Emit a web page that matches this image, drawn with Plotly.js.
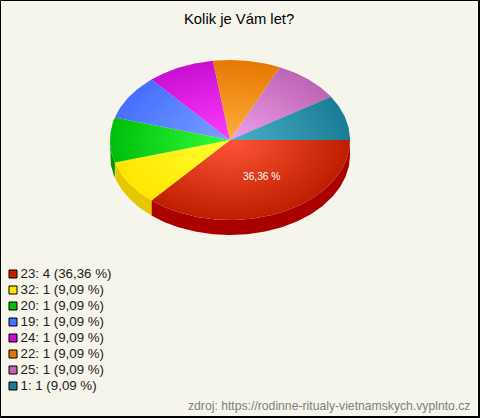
<!DOCTYPE html>
<html><head><meta charset="utf-8">
<script src="https://cdn.plot.ly/plotly-3.0.1.min.js"></script>
<style>html,body{margin:0;padding:0;background:#F5F5EC}#c{width:480px;height:418px}</style>
</head><body><div id="c"></div>
<script>
const categories = ['23','32','20','19','24','22','25','1'];
const counts = [4,1,1,1,1,1,1,1];
const percents = ['36,36','9,09','9,09','9,09','9,09','9,09','9,09','9,09'];
const edgeColors = ['#BE1E00','#FFE600','#00BE0A','#466EFF','#C80FD2','#E67800','#BE64B4','#197D96'];
const centerColors = ['#FF5537','#FFFF32','#32FF3C','#78A0FF','#FF3CFF','#FFAF3C','#F0A0EB','#4BAFC8'];
const swatchColors = ['#C81E00','#FFE600','#00BE0A','#466EFF','#C80FD2','#E67800','#BE64B4','#197D96'];
const sideColors = ['#AA0000','#E6C800','#009600','#3250C8','#9600A0','#B45A00','#96508C','#146478'];
const chartTitle = 'Kolik je Vám let?';
const sourceText = 'zdroj: https://rodinne-ritualy-vietnamskych.vyplnto.cz';

const cx=230, cy=140, rx=120, ry=80, depth=15;
const total = counts.reduce((a,b)=>a+b,0);
const rad = d=>d*Math.PI/180;
function arc(a0,a1,dy){
  const n=Math.max(2,Math.ceil(Math.abs(a1-a0)));
  const xs=[],ys=[];
  for(let i=0;i<=n;i++){const a=rad(a0+(a1-a0)*i/n);xs.push(cx+rx*Math.cos(a));ys.push(cy+dy+ry*Math.sin(a));}
  return [xs,ys];
}
const sides=[],tops=[];
let start=0;
counts.forEach((v,i)=>{
  const end=start+v/total*360;
  if(start<180){
    const e=Math.min(end,180);
    const [x1,y1]=arc(start,e,0),[x2,y2]=arc(e,start,depth);
    sides.push({type:'scatter',mode:'lines',x:x1.concat(x2),y:y1.concat(y2),fill:'toself',
      fillcolor:sideColors[i],line:{width:0},hoverinfo:'skip',showlegend:false});
  }
  const [ax,ay]=arc(start,end,0);
  // zero-area spike makes the fill's bounding box the whole ellipse, so the radial gradient is centred on the pie
  const xs=[cx-rx,cx,cx+rx,cx].concat(ax,[cx]);
  const ys=[cy-ry,cy,cy+ry,cy].concat(ay,[cy]);
  tops.push({type:'scatter',mode:'lines',x:xs,y:ys,fill:'toself',
    fillgradient:{type:'radial',colorscale:[[0,centerColors[i]],[1,edgeColors[i]]]},
    fillcolor:edgeColors[i],line:{width:0},hoverinfo:'skip',showlegend:false});
  start=end;
});
const rowY=categories.map((c,i)=>274+16*i);
const swatches={type:'scatter',mode:'markers',x:categories.map(()=>13),y:rowY,
  marker:{symbol:'square',size:8,color:swatchColors,line:{color:'#000',width:1}},
  hoverinfo:'skip',showlegend:false};
const labels={type:'scatter',mode:'text',x:categories.map(()=>20.5),y:rowY.map(y=>y+1),
  text:categories.map((c,i)=>c+': '+counts[i]+' ('+percents[i]+' %)'),
  textposition:'middle right',textfont:{family:'Liberation Sans, Arial',size:13.3,color:'#222'},
  hoverinfo:'skip',showlegend:false};
const layout={width:480,height:418,margin:{l:0,r:0,t:0,b:0},paper_bgcolor:'#F5F5EC',plot_bgcolor:'#F5F5EC',
  showlegend:false,font:{family:'Liberation Sans, Arial'},
  xaxis:{visible:false,range:[0,480],fixedrange:true},
  yaxis:{visible:false,range:[418,0],fixedrange:true},
  shapes:[{type:'rect',xref:'x',yref:'y',x0:0.5,y0:0.5,x1:478.5,y1:416.5,line:{color:'#000',width:1},layer:'above'},
          {type:'line',xref:'x',yref:'y',x0:479.5,y0:0,x1:479.5,y1:418,line:{color:'#000',width:1},layer:'above'},
          {type:'line',xref:'x',yref:'y',x0:0,y0:417.5,x1:480,y1:417.5,line:{color:'#000',width:1},layer:'above'}],
  annotations:[
    {xref:'x',yref:'y',x:238.5,y:19,text:chartTitle,showarrow:false,font:{size:14.8,color:'#000'}},
    {xref:'x',yref:'y',x:261.5,y:176,text:percents[0]+' %',showarrow:false,font:{size:10.2,color:'#fff'}},
    {xref:'x',yref:'y',x:472,y:406,xanchor:'right',text:sourceText,showarrow:false,font:{size:12.2,color:'#808080'}}
  ]};
Plotly.newPlot('c',sides.concat(tops,[swatches,labels]),layout,{displayModeBar:false,staticPlot:true});
</script></body></html>
